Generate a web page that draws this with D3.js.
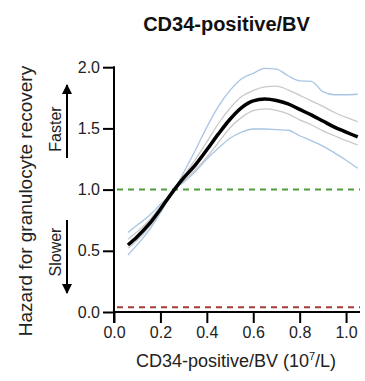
<!DOCTYPE html>
<html><head><meta charset="utf-8">
<script src="https://cdn.jsdelivr.net/npm/d3@7"></script>
<style>body{margin:0;background:#fff}svg{display:block}text{font-family:Arial,"Liberation Sans",sans-serif}</style>
</head><body>
<script>
const xs        = [0.06,0.10,0.15,0.20,0.26,0.30,0.35,0.40,0.45,0.50,0.55,0.60,0.65,0.70,0.75,0.80,0.85,0.90,0.95,1.00,1.05];
const estimate  = [0.547,0.615,0.715,0.84,1.00,1.095,1.20,1.325,1.455,1.575,1.67,1.725,1.74,1.728,1.70,1.655,1.61,1.56,1.51,1.47,1.43];
const ciUpper   = [0.595,0.655,0.745,0.86,1.00,1.11,1.245,1.39,1.54,1.665,1.76,1.81,1.84,1.845,1.815,1.77,1.725,1.68,1.63,1.59,1.555];
const ciLower   = [0.52,0.585,0.69,0.82,1.00,1.07,1.16,1.265,1.385,1.505,1.59,1.645,1.66,1.648,1.618,1.57,1.53,1.48,1.44,1.40,1.365];
const bandUpper = [0.65,0.71,0.785,0.88,1.00,1.14,1.32,1.51,1.68,1.81,1.905,1.95,1.99,1.985,1.93,1.888,1.885,1.80,1.775,1.775,1.779];
const bandLower = [0.466,0.55,0.665,0.81,1.00,1.06,1.145,1.25,1.34,1.42,1.47,1.495,1.495,1.49,1.485,1.44,1.40,1.355,1.30,1.24,1.174];
const xTicks = [0,0.2,0.4,0.6,0.8,1.0];
const yTicks = [0,0.5,1.0,1.5,2.0];
const refLine = 1.0;
const baseLine = 0.038;

const W=365,H=381;
const svg=d3.select("body").append("svg").attr("width",W).attr("height",H);
const x=d3.scaleLinear().domain([0,1.06]).range([114,360]);
const y=d3.scaleLinear().domain([0,2]).range([312,67.2]);

// title
svg.append("text").attr("x",226.5).attr("y",31).attr("text-anchor","middle")
  .attr("font-size",20).attr("font-weight","bold").attr("fill","#111").text("CD34-positive/BV");

// axes
const ya=svg.append("g").attr("transform","translate(114,0)")
  .call(d3.axisLeft(y).tickValues(yTicks).tickFormat(d3.format(".1f")).tickSize(11).tickPadding(3));
const xa=svg.append("g").attr("transform","translate(0,312)")
  .call(d3.axisBottom(x).tickValues(xTicks).tickFormat(d3.format(".1f")).tickSize(11).tickPadding(4));
[ya,xa].forEach(g=>{
  g.select(".domain").remove();
  g.selectAll(".tick line").attr("stroke","#000").attr("stroke-width",2);
  g.selectAll(".tick text").attr("font-size",16).attr("fill","#222").attr("font-family","Arial,'Liberation Sans',sans-serif");
});
svg.append("line").attr("x1",114).attr("x2",114).attr("y1",y(2)-1).attr("y2",323).attr("stroke","#000").attr("stroke-width",2);
svg.append("line").attr("x1",113).attr("x2",x(1.06)).attr("y1",y(0)).attr("y2",y(0)).attr("stroke","#000").attr("stroke-width",2);

// reference lines
svg.append("line").attr("x1",x(0)+3).attr("x2",x(1.06)).attr("y1",y(refLine)).attr("y2",y(refLine))
  .attr("stroke","#4f9e3c").attr("stroke-width",2).attr("stroke-dasharray","6,5");
svg.append("line").attr("x1",x(0)+3).attr("x2",x(1.06)).attr("y1",y(baseLine)).attr("y2",y(baseLine))
  .attr("stroke","#a83a3a").attr("stroke-width",2).attr("stroke-dasharray","6,5");

const line=arr=>d3.line().x((d,i)=>x(xs[i])).y(d=>y(d)).curve(d3.curveMonotoneX)(arr);
[[bandUpper,"#a9c5e4",1.3],[bandLower,"#a9c5e4",1.3],[ciUpper,"#c9c9c9",1.3],[ciLower,"#c9c9c9",1.3],[estimate,"#000",3.5]]
 .forEach(([a,c,w])=>svg.append("path").attr("d",line(a)).attr("fill","none").attr("stroke",c).attr("stroke-width",w));

// x label
const xl=svg.append("text").attr("x",236).attr("y",367).attr("text-anchor","middle").attr("font-size",18).attr("fill","#222");
xl.append("tspan").text("CD34-positive/BV (10");
xl.append("tspan").attr("font-size",11).attr("dy",-7).text("7");
xl.append("tspan").attr("dy",7).text("/L)");

// y label
svg.append("text").attr("transform","translate(32,201) rotate(-90)").attr("text-anchor","middle")
  .attr("font-size",19).attr("fill","#222").text("Hazard for granulocyte recovery");

// faster/slower
svg.append("text").attr("transform","translate(61,129) rotate(-90)").attr("text-anchor","middle")
  .attr("font-size",16).attr("fill","#222").text("Faster");
svg.append("text").attr("transform","translate(61,252) rotate(-90)").attr("text-anchor","middle")
  .attr("font-size",16).attr("fill","#222").text("Slower");
const defs=svg.append("defs");
defs.append("marker").attr("id","ah").attr("viewBox","0 0 10 10").attr("refX",9).attr("refY",5)
  .attr("markerWidth",5).attr("markerHeight",5).attr("orient","auto").attr("markerUnits","strokeWidth")
  .append("path").attr("d","M0,0L10,5L0,10z").attr("fill","#000");
svg.append("line").attr("x1",67).attr("x2",67).attr("y1",158).attr("y2",85).attr("stroke","#000").attr("stroke-width",2).attr("marker-end","url(#ah)");
svg.append("line").attr("x1",67).attr("x2",67).attr("y1",220).attr("y2",293).attr("stroke","#000").attr("stroke-width",2).attr("marker-end","url(#ah)");
</script>
</body></html>
